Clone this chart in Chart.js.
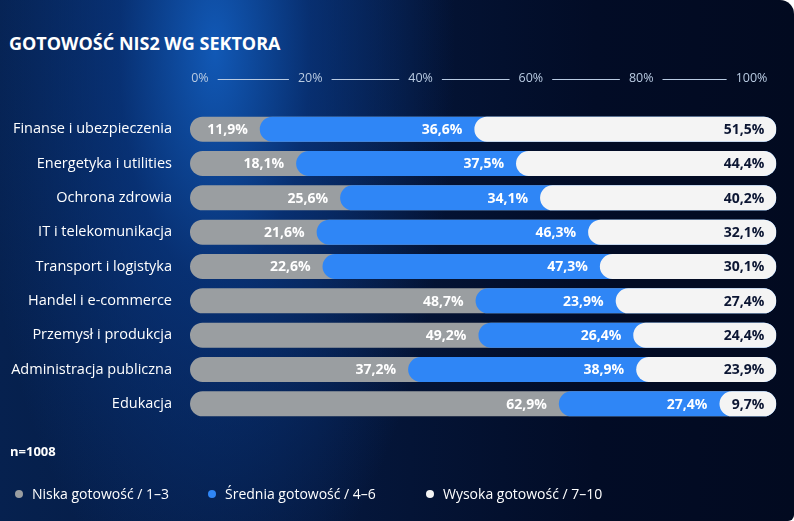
<!DOCTYPE html>
<html lang="pl">
<head>
<meta charset="utf-8">
<title>Gotowość NIS2 wg sektora</title>
<script src="https://cdn.jsdelivr.net/npm/chart.js@4.4.1/dist/chart.umd.min.js"></script>
<style>
    html, body { margin: 0; padding: 0; background: #ffffff; }
    #karta {
        position: relative; width: 794px; height: 521px; overflow: hidden;
        border-radius: 0 14px 6px 0;
        background:
            radial-gradient(ellipse 240px 580px at 215px 50px, rgba(18, 92, 188, 0.95) 0%, rgba(9, 58, 136, 0.68) 40%, rgba(4, 24, 64, 0) 100%),
            linear-gradient(90deg, #06214f 0%, #05183e 40%, #020c26 75%, #020a20 100%);
        font-family: "Open Sans", sans-serif; color: #ffffff;
    }
    #tytul { position: absolute; left: 9px; top: 31px; font-size: 18px; font-weight: 700; }
    #proba { position: absolute; left: 10px; top: 442px; font-size: 13px; font-weight: 700; }
    .leg { position: absolute; top: 485px; font-size: 14px; line-height: 18px; white-space: nowrap; }
    .leg i { display: inline-block; width: 8px; height: 8px; border-radius: 50%; margin-right: 9px; vertical-align: 1px; }
    #wykres { position: absolute; left: 0; top: 0; }
</style>
</head>
<body>
<div id="karta">
    <div id="tytul">GOTOWOŚĆ NIS2 WG SEKTORA</div>
    <canvas id="wykres" width="794" height="521"></canvas>
    <div id="proba">n=1008</div>
    <div class="leg" style="left:15px"><i style="background:#9a9ea1"></i>Niska gotowość / 1–3</div>
    <div class="leg" style="left:208px"><i style="background:#2f86f6"></i>Średnia gotowość / 4–6</div>
    <div class="leg" style="left:426px"><i style="background:#f4f4f4"></i>Wysoka gotowość / 7–10</div>
</div>
<script>
// Dane
const sektory = [
    'Finanse i ubezpieczenia',
    'Energetyka i utilities',
    'Ochrona zdrowia',
    'IT i telekomunikacja',
    'Transport i logistyka',
    'Handel i e-commerce',
    'Przemysł i produkcja',
    'Administracja publiczna',
    'Edukacja'
];
const niska   = [11.9, 18.1, 25.6, 21.6, 22.6, 48.7, 49.2, 37.2, 62.9];
const srednia = [36.6, 37.5, 34.1, 46.3, 47.3, 23.9, 26.4, 38.9, 27.4];
const wysoka  = [51.5, 44.4, 40.2, 32.1, 30.1, 27.4, 24.4, 23.9, 9.7];
const podzialka = [0, 20, 40, 60, 80, 100];

const kolory = { niska: '#9a9ea1', srednia: '#2f86f6', wysoka: '#f4f4f4' };
const FONT = '"Open Sans", sans-serif';

function formatuj(v) {
    return v.toFixed(1).replace('.', ',') + '%';
}

// Etykiety wartości wewnątrz segmentów
const etykietyWartosci = {
    id: 'etykietyWartosci',
    afterDatasetsDraw(chart) {
        const ctx = chart.ctx;
        const x = chart.scales.x;
        const y = chart.scales.y;
        ctx.save();
        ctx.font = 'bold 14px ' + FONT;
        ctx.textAlign = 'right';
        ctx.textBaseline = 'middle';
        sektory.forEach((s, i) => {
            const yy = y.getPixelForValue(i) + 1;
            const konce = [niska[i], niska[i] + srednia[i], 100];
            const wartosci = [niska[i], srednia[i], wysoka[i]];
            const kol = ['#ffffff', '#ffffff', '#0c1633'];
            konce.forEach((k, j) => {
                ctx.fillStyle = kol[j];
                ctx.fillText(formatuj(wartosci[j]), x.getPixelForValue(k) - 12, yy);
            });
        });
        ctx.restore();
    }
};

// Kreski pomiędzy etykietami osi górnej
const kreskiOsi = {
    id: 'kreskiOsi',
    afterDraw(chart) {
        const ctx = chart.ctx;
        const os = chart.scales.x2;
        const yy = 79.5;
        ctx.save();
        ctx.font = '12.5px ' + FONT;
        ctx.strokeStyle = '#b9cbe2';
        ctx.lineWidth = 1;
        for (let i = 0; i < podzialka.length - 1; i++) {
            const a = podzialka[i], b = podzialka[i + 1];
            const wa = ctx.measureText(a + '%').width;
            const wb = ctx.measureText(b + '%').width;
            const x1 = os.getPixelForValue(a) + wa / 2 + 9;
            const x2 = os.getPixelForValue(b) - wb / 2 - 9;
            ctx.beginPath();
            ctx.moveTo(x1, yy);
            ctx.lineTo(x2, yy);
            ctx.stroke();
        }
        ctx.restore();
    }
};

const dane = {
    labels: sektory,
    datasets: [
        {
            label: 'Niska gotowość / 1–3',
            data: sektory.map(() => [0, 100]),
            backgroundColor: kolory.niska,
            order: 3
        },
        {
            label: 'Średnia gotowość / 4–6',
            data: niska.map(n => [n, 100]),
            backgroundColor: kolory.srednia,
            order: 2
        },
        {
            label: 'Wysoka gotowość / 7–10',
            data: niska.map((n, i) => [n + srednia[i], 100]),
            backgroundColor: kolory.wysoka,
            order: 1
        }
    ]
};
dane.datasets.forEach(d => {
    d.grouped = false;
    d.borderRadius = 20;
    d.borderSkipped = false;
    d.barPercentage = 0.73;
    d.categoryPercentage = 1;
});

new Chart(document.getElementById('wykres'), {
    type: 'bar',
    data: dane,
    options: {
        indexAxis: 'y',
        responsive: false,
        animation: false,
        layout: { padding: { top: 72, right: 14, bottom: 100, left: 0 } },
        plugins: { legend: { display: false }, tooltip: { enabled: false } },
        scales: {
            x: { display: false, min: 0, max: 100 },
            x2: {
                type: 'linear',
                position: 'top',
                min: -1.8,
                max: 104.5,
                afterBuildTicks: s => { s.ticks = podzialka.map(v => ({ value: v })); },
                afterFit: s => { s.height = 40; },
                grid: { display: false, drawTicks: false },
                border: { display: false },
                ticks: {
                    padding: 26,
                    color: '#b9cbe2',
                    font: { family: FONT, size: 12.5 },
                    maxRotation: 0,
                    callback: v => v + '%'
                }
            },
            y: {
                afterFit: s => { s.width = 190; },
                grid: { display: false, drawTicks: false },
                border: { display: false },
                ticks: {
                    padding: 18,
                    color: '#ffffff',
                    font: { family: FONT, size: 14.5 }
                }
            }
        }
    },
    plugins: [etykietyWartosci, kreskiOsi]
});
</script>
</body>
</html>
